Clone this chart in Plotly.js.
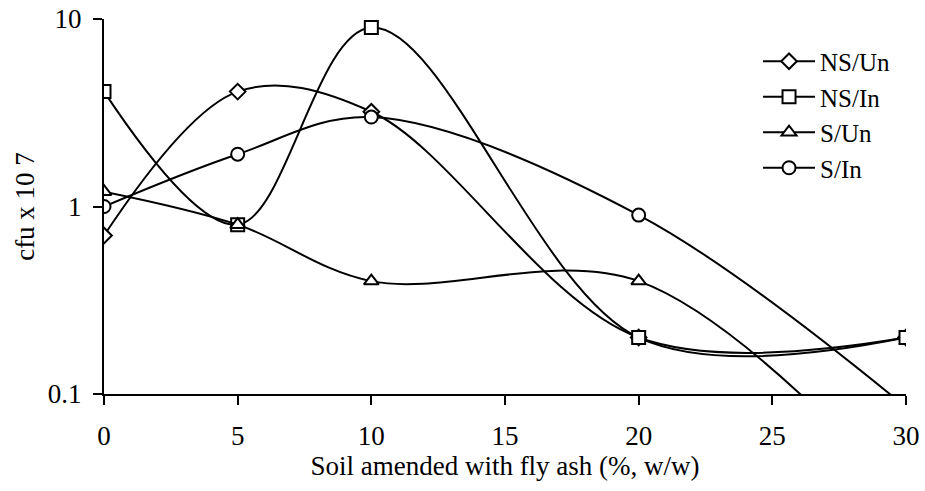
<!DOCTYPE html>
<html>
<head>
<meta charset="utf-8">
<script src="https://cdn.plot.ly/plotly-3.0.1.min.js"></script>
<style>html,body{margin:0;padding:0;background:#fff;}#chart{width:925px;height:491px;}</style>
</head>
<body>
<div id="chart"></div>
<script>
// Data
const flyAsh = [0, 5, 10, 20, 30];
const nsUn = [0.7, 4.1, 3.2, 0.2, 0.2];
const nsIn = [4.1, 0.8, 9, 0.2, 0.2];
const sUn = [1.2, 0.8, 0.4, 0.4, 0.027];
const sIn = [1.0, 1.9, 3.0, 0.9, 0.085];
const seriesNames = ["NS/Un", "NS/In", "S/Un", "S/In"];
const yTickVals = [0.1, 1, 10];
const yTickText = ["0.1", "1", "10"];
const xTickVals = [0, 5, 10, 15, 20, 25, 30];

const FONT = "Liberation Serif, Times New Roman, serif";
const symbols = ["diamond", "square", "triangle-up", "circle"];
const sizes = [12, 13, 13, 13];
const values = [nsUn, nsIn, sUn, sIn];

const traces = values.map((v, i) => ({
  x: flyAsh,
  y: v,
  name: seriesNames[i],
  type: "scatter",
  mode: "lines+markers",
  line: {shape: "spline", smoothing: 1, color: "#000", width: 2},
  marker: {symbol: symbols[i], size: sizes[i], color: "#fff",
           line: {color: "#000", width: 2}},
  cliponaxis: true
}));

const layout = {
  width: 925, height: 491,
  margin: {l: 104, r: 19, t: 19, b: 97},
  paper_bgcolor: "#fff", plot_bgcolor: "#fff",
  font: {family: FONT, size: 27, color: "#000"},
  showlegend: true,
  legend: {x: 0.8155, xanchor: "left", y: 0.948, yanchor: "top",
           bgcolor: "rgba(0,0,0,0)", borderwidth: 0, itemwidth: 52,
           font: {family: FONT, size: 25, color: "#000"}, tracegroupgap: 0},
  xaxis: {range: [0, 30], tickvals: xTickVals, ticks: "outside", ticklen: 9, tickwidth: 2,
          tickcolor: "#000", showline: true, linecolor: "#000", linewidth: 2,
          showgrid: false, zeroline: false, fixedrange: true,
          tickfont: {family: FONT, size: 27}, ticklabelstandoff: 8,
          title: {text: "Soil amended with fly ash (%, w/w)", font: {family: FONT, size: 27}, standoff: 0}},
  yaxis: {type: "log", range: [-1, 1], tickvals: yTickVals, ticktext: yTickText,
          ticks: "outside", ticklen: 9, tickwidth: 2, tickcolor: "#000",
          showline: true, linecolor: "#000", linewidth: 2, showgrid: false, zeroline: false,
          tickfont: {family: FONT, size: 27}, ticklabelstandoff: 6,
          title: {text: "cfu x 10 7", font: {family: FONT, size: 27}, standoff: 5}}
};

Plotly.newPlot("chart", traces, layout, {displayModeBar: false, staticPlot: true});
</script>
</body>
</html>
